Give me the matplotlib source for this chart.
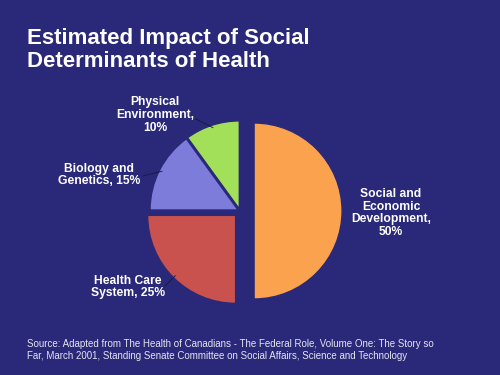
import matplotlib.pyplot as plt
import numpy as np

plt.rcParams['font.family'] = ['Liberation Sans', 'DejaVu Sans']

# Data
labels = ['Social and\nEconomic\nDevelopment,\n50%', 'Health Care\nSystem, 25%',
          'Biology and\nGenetics, 15%', 'Physical\nEnvironment,\n10%']
values = [50, 25, 15, 10]
colors = ['#FBA24E', '#C9524E', '#7D7CDB', '#A3E05A']
explode = [0.16, 0.07, 0.025, 0.025]

bg = '#2A2878'

fig = plt.figure(figsize=(5, 3.75), dpi=100, facecolor=bg)
ax = fig.add_axes([0, 0, 1, 1])
ax.set_facecolor(bg)

wedges, _ = ax.pie(values, colors=colors, explode=explode, startangle=90,
                   counterclock=False, radius=1.0,
                   wedgeprops=dict(edgecolor=bg, linewidth=1.0))

# Axis limits so the pie sits like in the reference (88 px per unit)
ax.set_xlim(-240 / 88, 260 / 88)
ax.set_ylim(-164 / 88, 211 / 88)
ax.set_aspect('equal')
ax.axis('off')

# Label text positions (pixel coords in the 500x375 image)
label_pos = [(391, 213), (128, 287), (99, 175), (155, 115)]
line_start = [None, (165, 286), (143, 176), (196, 119)]

def px(x, y):
    return (x - 240) / 88, (211 - y) / 88

for w, lab, pos, ls in zip(wedges, labels, label_pos, line_start):
    tx, ty = px(*pos)
    ax.text(tx, ty, lab, ha='center', va='center', color='white',
            fontsize=8.7, fontweight='bold', linespacing=1.1)
    if ls is not None:
        ang = np.deg2rad((w.theta1 + w.theta2) / 2)
        cx, cy = w.center
        ex_pt = (cx + 0.97 * np.cos(ang), cy + 0.97 * np.sin(ang))
        sx, sy = px(*ls)
        ax.plot([sx, ex_pt[0]], [sy, ex_pt[1]], color='#15154a', lw=0.6)

fig.text(27 / 500, 1 - 28 / 375, 'Estimated Impact of Social\nDeterminants of Health',
         ha='left', va='top', color='white', fontsize=16, fontweight='bold',
         linespacing=1.1)

fig.text(27 / 500, 1 - 339 / 375,
         'Source: Adapted from The Health of Canadians - The Federal Role, Volume One: The Story so\n'
         'Far, March 2001, Standing Senate Committee on Social Affairs, Science and Technology',
         ha='left', va='top', color='#E4E4F2', fontsize=7, linespacing=1.2)

fig.savefig('out.png', dpi=100, facecolor=bg)
